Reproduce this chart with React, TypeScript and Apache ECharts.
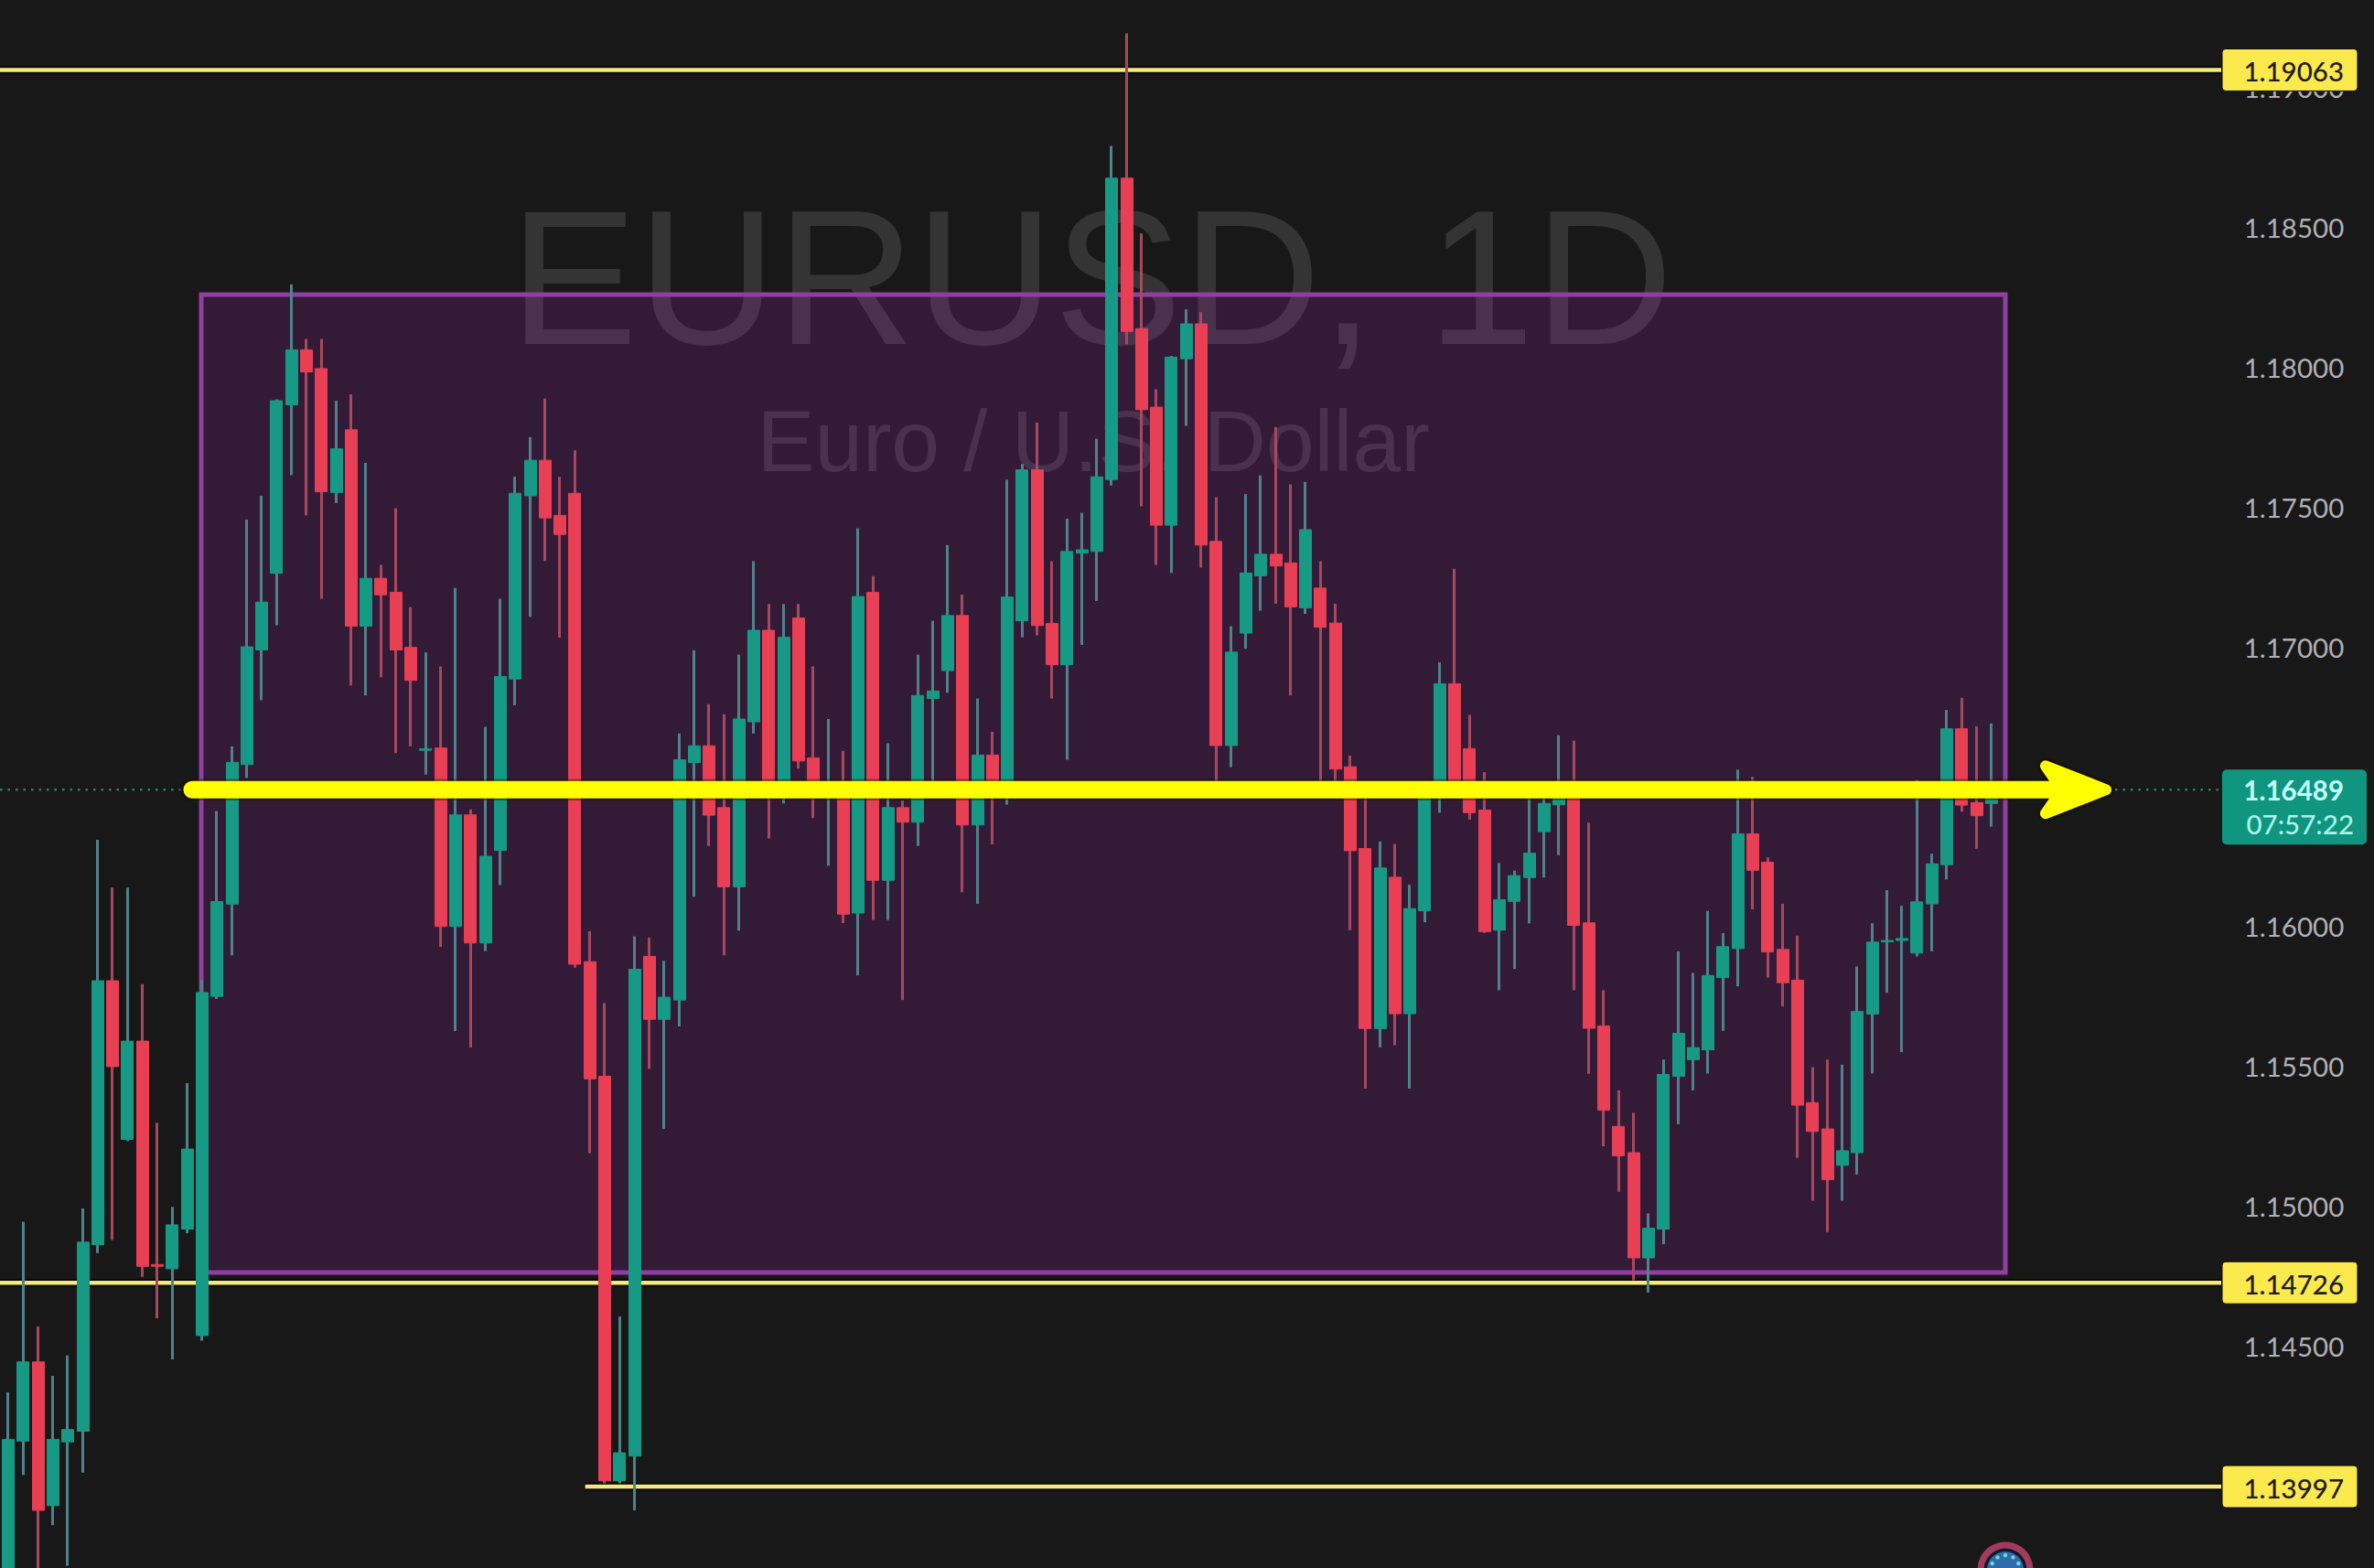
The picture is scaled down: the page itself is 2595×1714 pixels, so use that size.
import React, { useEffect, useRef } from "react";
import * as echarts from "echarts";

const opens = [
  1.1360, 1.14160, 1.14443, 1.13929, 1.14157, 1.14195, 1.14862, 1.15806, 1.15239, 1.15590,
  1.14791, 1.14776, 1.14918, 1.14537, 1.15750, 1.16080, 1.16579, 1.16989, 1.17263, 1.17865,
  1.18062, 1.17995, 1.17552, 1.17776, 1.17074, 1.17245, 1.17195, 1.16998, 1.16630, 1.16638,
  1.16000, 1.16399, 1.15941, 1.16272, 1.16885, 1.17540, 1.17667, 1.17470, 1.17549, 1.15874,
  1.15464, 1.14018, 1.14106, 1.15893, 1.15668, 1.15737, 1.16586, 1.16646, 1.16425, 1.16142,
  1.16732, 1.17059, 1.16480, 1.17103, 1.16603, 1.16495, 1.16500, 1.16048, 1.17195, 1.16165,
  1.16425, 1.16373, 1.16815, 1.16915, 1.17112, 1.16363, 1.16613, 1.16480, 1.17093, 1.17633,
  1.17084, 1.16936, 1.17335, 1.17341, 1.17598, 1.18676, 1.18138, 1.17857, 1.17435, 1.18030,
  1.18155, 1.17377, 1.16647, 1.17049, 1.17254, 1.17331, 1.17300, 1.17139, 1.17210, 1.17085,
  1.16571, 1.16279, 1.15635, 1.16176, 1.15688, 1.16056, 1.16490, 1.16868, 1.16636, 1.16416,
  1.15987, 1.16090, 1.16175, 1.16339, 1.16435, 1.16480, 1.16013, 1.15644, 1.15285, 1.15191,
  1.14815, 1.14918, 1.15464, 1.15524, 1.15559, 1.15817, 1.15921, 1.16331, 1.16230, 1.15918,
  1.15808, 1.15370, 1.15276, 1.15146, 1.15191, 1.15687, 1.15945, 1.15950, 1.15905, 1.16081,
  1.16221, 1.16707, 1.16443, 1.16440,
];
const closes = [
  1.14166, 1.14443, 1.13912, 1.14166, 1.14201, 1.14871, 1.15806, 1.15499, 1.15590, 1.14785,
  1.14785, 1.14933, 1.15204, 1.15764, 1.16089, 1.16587, 1.17000, 1.17160, 1.17880, 1.18062,
  1.17983, 1.17555, 1.17708, 1.17074, 1.17245, 1.17186, 1.16989, 1.16880, 1.16635, 1.16000,
  1.16399, 1.15941, 1.16251, 1.16894, 1.17549, 1.17667, 1.17461, 1.17402, 1.15865, 1.15455,
  1.14018, 1.14118, 1.15847, 1.15668, 1.15747, 1.16596, 1.16646, 1.16398, 1.16142, 1.16742,
  1.17059, 1.16480, 1.17034, 1.16592, 1.16500, 1.16505, 1.16044, 1.17180, 1.16165, 1.16425,
  1.16373, 1.16826, 1.16842, 1.17112, 1.16363, 1.16613, 1.16471, 1.17178, 1.17633, 1.17076,
  1.16936, 1.17341, 1.17347, 1.17608, 1.18676, 1.18128, 1.17848, 1.17435, 1.18036, 1.18155,
  1.17364, 1.16647, 1.16981, 1.17264, 1.17331, 1.17289, 1.17143, 1.17419, 1.17070, 1.16563,
  1.16271, 1.15635, 1.16209, 1.15688, 1.16064, 1.16490, 1.16868, 1.16500, 1.16407, 1.15982,
  1.16096, 1.16182, 1.16262, 1.16440, 1.16480, 1.16004, 1.15636, 1.15343, 1.15180, 1.14815,
  1.14921, 1.15471, 1.15618, 1.15567, 1.15825, 1.15928, 1.16331, 1.16201, 1.15909, 1.15799,
  1.15361, 1.15267, 1.15095, 1.15198, 1.15696, 1.15944, 1.15950, 1.15957, 1.16088, 1.16224,
  1.16707, 1.16434, 1.16396, 1.16489,
];
const lows = [
  1.1350, 1.14039, 1.1365, 1.13859, 1.13714, 1.14047, 1.14832, 1.14879, 1.15233, 1.14747,
  1.14599, 1.14452, 1.14903, 1.14519, 1.15741, 1.15897, 1.16531, 1.16809, 1.17077, 1.17614,
  1.17470, 1.17172, 1.17514, 1.16862, 1.16826, 1.16891, 1.16620, 1.16644, 1.16543, 1.15927,
  1.15626, 1.15567, 1.15912, 1.16148, 1.16791, 1.17107, 1.17307, 1.17033, 1.15853, 1.15189,
  1.14009, 1.14009, 1.13912, 1.15491, 1.15276, 1.15643, 1.16106, 1.16288, 1.15897, 1.15985,
  1.16690, 1.16315, 1.16440, 1.16565, 1.16388, 1.16217, 1.16012, 1.15825, 1.16023, 1.16023,
  1.15737, 1.16288, 1.16490, 1.16836, 1.16123, 1.16081, 1.16294, 1.16436, 1.17034, 1.17041,
  1.16815, 1.16596, 1.17007, 1.17164, 1.17577, 1.18082, 1.17502, 1.17293, 1.17264, 1.17790,
  1.17283, 1.16517, 1.16570, 1.16993, 1.17129, 1.17154, 1.16826, 1.17118, 1.16517, 1.16517,
  1.15987, 1.15420, 1.15568, 1.15575, 1.15420, 1.16015, 1.16407, 1.16475, 1.16382, 1.15977,
  1.15772, 1.15848, 1.16011, 1.16175, 1.16255, 1.15772, 1.15473, 1.15214, 1.15051, 1.14735,
  1.14691, 1.14864, 1.15293, 1.15414, 1.15474, 1.15627, 1.15786, 1.16061, 1.15817, 1.15714,
  1.15173, 1.15019, 1.14907, 1.15019, 1.15113, 1.15474, 1.15763, 1.15551, 1.15893, 1.15911,
  1.16168, 1.16411, 1.16278, 1.16357,
];
const highs = [
  1.14334, 1.14944, 1.14570, 1.14393, 1.14466, 1.14992, 1.16310, 1.16139, 1.16139, 1.15794,
  1.15298, 1.14997, 1.15440, 1.15809, 1.16413, 1.16644, 1.17455, 1.17540, 1.17885, 1.18296,
  1.18101, 1.18101, 1.17880, 1.17903, 1.17658, 1.17293, 1.17496, 1.17142, 1.16980, 1.16930,
  1.17210, 1.16419, 1.16714, 1.17172, 1.17608, 1.17750, 1.17888, 1.17608, 1.17703, 1.15983,
  1.15726, 1.14605, 1.15965, 1.15960, 1.15877, 1.16690, 1.16988, 1.16795, 1.16759, 1.16972,
  1.17306, 1.17153, 1.17153, 1.17153, 1.16930, 1.16742, 1.16628, 1.17424, 1.17253, 1.16655,
  1.16450, 1.16972, 1.17093, 1.17364, 1.17187, 1.16815, 1.16696, 1.17598, 1.17654, 1.17802,
  1.17306, 1.17458, 1.17479, 1.17744, 1.18791, 1.19194, 1.18478, 1.17921, 1.18040, 1.18207,
  1.18197, 1.17535, 1.17074, 1.17546, 1.17613, 1.17786, 1.17581, 1.17590, 1.17306, 1.17154,
  1.16611, 1.16467, 1.16304, 1.16295, 1.16149, 1.16520, 1.16945, 1.17279, 1.16757, 1.16552,
  1.16227, 1.16200, 1.16462, 1.16500, 1.16684, 1.16664, 1.16371, 1.15772, 1.15414, 1.15334,
  1.14974, 1.15524, 1.15911, 1.15834, 1.16056, 1.15976, 1.16561, 1.16535, 1.16247, 1.16081,
  1.15967, 1.15497, 1.15524, 1.15506, 1.15857, 1.16012, 1.16130, 1.16074, 1.16524, 1.16260,
  1.16774, 1.16818, 1.16716, 1.16726,
];

const SLOT_COUNT = 158;
const categories = Array.from({ length: SLOT_COUNT }, (_, i) => String(i));

const tickValues = [1.145, 1.15, 1.155, 1.16, 1.17, 1.175, 1.18, 1.185, 1.19];
const levelPrices = [1.19063, 1.14726, 1.13997];
const levelStartIndex = [-1, -1, 39];
const lastPrice = 1.16489;
const countdown = "07:57:22";
const boxTopPrice = 1.1826;
const boxBottomPrice = 1.14763;
const watermarkMain = "EURUSD, 1D";
const watermarkSub = "Euro / U.S. Dollar";
const euroDots = [0, 32, -32, 64, -64];

const AXIS_FONT = "Lato";
const BG = "#181818";

export default function App() {
  const ref = useRef<HTMLDivElement>(null);
  useEffect(() => {
    const chart = echarts.init(ref.current!, null, { renderer: "svg" });
    const wickData = opens.map((o, i) => [o, closes[i], lows[i], highs[i]]);
    const bodyData = opens.map((o, i) => {
      const c = closes[i];
      return [o, c, Math.min(o, c), Math.max(o, c)];
    });

    const labelText = (text: string, x: number, y: number, fill: string, weight = 500) => ({
      type: "text",
      style: {
        text, x, y, fill,
        fontFamily: AXIS_FONT, fontSize: 29.5, fontWeight: weight,
        align: "right", verticalAlign: "middle",
      },
    });

    chart.setOption({
      animation: false,
      backgroundColor: BG,
      grid: { left: 0.85, top: 0, width: 2575.4, height: 1714 },
      xAxis: { type: "category", data: categories, show: false, boundaryGap: true },
      yAxis: {
        type: "value", position: "right", min: 1.13706, max: 1.19313,
        axisLine: { show: false }, axisTick: { show: false }, splitLine: { show: false },
        axisLabel: {
          inside: true, margin: 14, color: "#b0b0b4", fontFamily: AXIS_FONT, fontSize: 29.5,
          customValues: tickValues,
          formatter: (v: number) => v.toFixed(5),
        },
      },
      graphic: {
        elements: [
          {
            type: "text", z: 0, silent: true,
            style: {
              text: watermarkMain, x: 1193, y: 303, fill: "rgba(255,255,255,0.12)",
              fontFamily: "Liberation Sans", fontSize: 210, align: "center", verticalAlign: "middle",
            },
          },
          {
            type: "text", z: 0, silent: true,
            style: {
              text: watermarkSub, x: 1195, y: 482, fill: "rgba(255,255,255,0.12)",
              fontFamily: "Liberation Sans", fontSize: 94.5, align: "center", verticalAlign: "middle",
            },
          },
          { type: "circle", z: 20, shape: { cx: 2192, cy: 1716, r: 27 }, style: { fill: "#101a2c", stroke: "#a33a5e", lineWidth: 7 } },
          { type: "circle", z: 21, shape: { cx: 2192, cy: 1716, r: 20 }, style: { fill: "#2f6cab" } },
          ...euroDots.map((a) => ({
            type: "circle", z: 22,
            shape: {
              cx: 2192 + 16 * Math.sin((a * Math.PI) / 180),
              cy: 1716 - 16 * Math.cos((a * Math.PI) / 180),
              r: 2.2,
            },
            style: { fill: "#6fdcd0" },
          })),
        ],
      },
      series: [
        {
          type: "custom", name: "range box", z: 1, silent: true,
          data: [[0, boxTopPrice, boxBottomPrice]],
          encode: { x: 0, y: 1 },
          renderItem: (_: any, api: any) => {
            const top = api.coord([0, api.value(1)])[1];
            const bottom = api.coord([0, api.value(2)])[1];
            return {
              type: "rect",
              shape: { x: 220, y: top, width: 1972, height: bottom - top },
              style: { fill: "rgba(156,39,176,0.21)", stroke: "#8f3fa0", lineWidth: 5 },
            };
          },
        },
        {
          type: "custom", name: "price line", z: 2, silent: true,
          data: [[0, lastPrice]],
          encode: { x: 0, y: 1 },
          renderItem: (_: any, api: any) => {
            const y = api.coord([0, api.value(1)])[1];
            return {
              type: "line",
              shape: { x1: 0, y1: y, x2: 2428, y2: y },
              style: { stroke: "#3f8f84", lineWidth: 2, lineDash: [2.5, 6] },
            };
          },
        },
        {
          type: "custom", name: "levels", z: 2, silent: true,
          data: levelPrices.map((p, i) => [levelStartIndex[i], p]),
          encode: { y: 1 },
          renderItem: (_: any, api: any) => {
            const start = api.value(0);
            const price = api.value(1);
            const y = api.coord([0, price])[1];
            const x1 = start < 0 ? 0 : api.coord([start, price])[0] - 5;
            return {
              type: "group",
              children: [
                { type: "line", shape: { x1, y1: y, x2: 2428, y2: y }, style: { stroke: "rgba(0,0,0,0.55)", lineWidth: 9 } },
                { type: "line", shape: { x1, y1: y, x2: 2428, y2: y }, style: { stroke: "#f6e97c", lineWidth: 4.5 } },
              ],
            };
          },
        },
        {
          type: "candlestick", name: "wicks", z: 3, barWidth: 1, silent: true,
          data: wickData,
          itemStyle: {
            color: "#4f8289", color0: "#a8485f", borderColor: "#4f8289", borderColor0: "#a8485f",
            borderColorDoji: "#4f8289", borderWidth: 3,
          },
        },
        {
          type: "candlestick", name: "EURUSD", z: 4, barWidth: 13.5, silent: true,
          data: bodyData,
          itemStyle: {
            color: "#169a85", color0: "#e83f54", borderColor: "#169a85", borderColor0: "#e83f54",
            borderColorDoji: "#169a85", borderWidth: 1,
          },
        },
        {
          type: "custom", name: "arrow", z: 5, silent: true,
          data: [[0, lastPrice]],
          encode: { x: 0, y: 1 },
          renderItem: (_: any, api: any) => {
            const y = api.coord([0, api.value(1)])[1];
            const head = [[2236, y - 26], [2302, y], [2236, y + 26], [2254, y]];
            return {
              type: "group",
              children: [
                { type: "line", shape: { x1: 208, y1: y, x2: 2270, y2: y }, style: { stroke: "rgba(20,12,0,0.45)", lineWidth: 23, lineCap: "round" } },
                { type: "polygon", shape: { points: head }, style: { fill: "rgba(20,12,0,0.45)", stroke: "rgba(20,12,0,0.45)", lineWidth: 17, lineJoin: "round" } },
                { type: "line", shape: { x1: 210, y1: y, x2: 2270, y2: y }, style: { stroke: "#ffff00", lineWidth: 19, lineCap: "round" } },
                { type: "polygon", shape: { points: head }, style: { fill: "#ffff00", stroke: "#ffff00", lineWidth: 12, lineJoin: "round" } },
              ],
            };
          },
        },
        {
          type: "custom", name: "level labels", z: 6, silent: true,
          data: levelPrices.map((p) => [0, p]),
          encode: { x: 0, y: 1 },
          renderItem: (_: any, api: any) => {
            const price = api.value(1);
            const y = api.coord([0, price])[1];
            return {
              type: "group",
              children: [
                {
                  type: "rect",
                  shape: { x: 2429, y: y - 23, width: 148, height: 46, r: 4 },
                  style: { fill: "#fbe94e", stroke: "#0c0a00", lineWidth: 1 },
                },
                labelText(price.toFixed(5), 2562, y + 1, "#1d1d14"),
              ],
            };
          },
        },
        {
          type: "custom", name: "last price label", z: 6, silent: true,
          data: [[0, lastPrice]],
          encode: { x: 0, y: 1 },
          renderItem: (_: any, api: any) => {
            const price = api.value(1);
            const y = api.coord([0, price])[1];
            return {
              type: "group",
              children: [
                { type: "rect", shape: { x: 2429, y: y - 22, width: 158, height: 82, r: 5 }, style: { fill: "#0f9580" } },
                labelText(price.toFixed(5), 2562, y, "#c5fff4", 700),
                labelText(countdown, 2573, y + 37, "#a9f5e6"),
              ],
            };
          },
        },
      ],
    });
    return () => chart.dispose();
  }, []);
  return (
    <div
      ref={ref}
      style={{ position: "absolute", left: 0, top: 0, width: 2595, height: 1714 }}
    />
  );
}
